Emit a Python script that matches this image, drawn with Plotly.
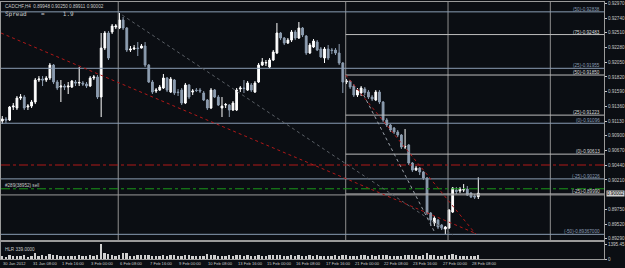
import plotly.graph_objects as go

# ---------------- data ----------------
symbol_header = "CADCHF,H4  0.89948 0.90250 0.89911 0.90002"
spread_text = "Spread    =     1.9"

bars = list(range(131))
opens = [0.91131,0.91162,0.91146,0.91350,0.91334,0.91490,0.91506,0.91350,0.91365,0.91428,
         0.91772,0.91787,0.91772,0.91803,0.92006,0.91741,0.91662,0.91678,0.91662,0.91662,
         0.91741,0.91725,0.91725,0.91709,0.91678,0.91803,0.91819,0.91506,0.92272,0.92507,
         0.92523,0.92601,0.92585,0.92710,0.92585,0.92241,0.92257,0.92272,0.92272,0.92304,
         0.92006,0.91741,0.91600,0.91615,0.91647,0.91803,0.91584,0.91772,0.91584,0.91615,
         0.91412,0.91694,0.91584,0.91615,0.91615,0.91569,0.91459,0.91334,0.91615,0.91506,
         0.91334,0.91381,0.91381,0.91303,0.91303,0.91631,0.91647,0.91615,0.91694,0.91584,
         0.91741,0.92006,0.92038,0.91975,0.92085,0.92194,0.92507,0.92429,0.92350,0.92397,
         0.92523,0.92429,0.92585,0.92460,0.92194,0.92288,0.92366,0.92257,0.92116,0.92257,
         0.92241,0.92241,0.92194,0.92038,0.91741,0.91756,0.91678,0.91537,0.91569,0.91631,
         0.91584,0.91506,0.91459,0.91584,0.91428,0.91146,0.91068,0.91021,0.90959,0.90912,
         0.90724,0.90755,0.90474,0.90364,0.90395,0.90333,0.90239,0.89692,0.89535,0.89582,
         0.89504,0.89441,0.89457,0.89707,0.90051,0.90036,0.90051,0.90067,0.90004,0.89958,
         0.89948]
highs = [0.91209,0.91193,0.91365,0.91412,0.91522,0.91553,0.91537,0.91396,0.91459,0.91803,
         0.91834,0.91834,0.91834,0.92038,0.92022,0.91772,0.91772,0.91709,0.91741,0.91772,
         0.91772,0.91975,0.91756,0.91741,0.91834,0.91850,0.91850,0.92507,0.92538,0.92538,
         0.92648,0.92648,0.92820,0.92757,0.92601,0.92304,0.92319,0.92366,0.92335,0.92366,
         0.92022,0.91772,0.91647,0.91694,0.91866,0.91819,0.91819,0.91787,0.91631,0.91647,
         0.91725,0.91709,0.91631,0.91647,0.91647,0.91600,0.91475,0.91647,0.91631,0.91537,
         0.91506,0.91412,0.91396,0.91443,0.91647,0.91678,0.91772,0.91756,0.91725,0.91756,
         0.92038,0.92116,0.92085,0.92116,0.92241,0.92663,0.92523,0.92444,0.92429,0.92554,
         0.92554,0.92679,0.92601,0.92476,0.92350,0.92413,0.92397,0.92288,0.92288,0.92319,
         0.92272,0.92272,0.92335,0.92053,0.91787,0.91772,0.91709,0.91647,0.91678,0.91662,
         0.91615,0.91537,0.91615,0.91615,0.91443,0.91177,0.91084,0.91037,0.90990,0.90927,
         0.91005,0.90771,0.90489,0.90427,0.90411,0.90349,0.90255,0.89707,0.89645,0.89598,
         0.89519,0.89488,0.89754,0.90098,0.90098,0.90098,0.90145,0.90114,0.90020,0.89989,
         0.90250]
lows = [0.91084,0.91099,0.91131,0.91303,0.91303,0.91459,0.91303,0.91303,0.91334,0.91396,
        0.91741,0.91678,0.91741,0.91772,0.91709,0.91615,0.91428,0.91615,0.91553,0.91647,
        0.91678,0.91678,0.91678,0.91647,0.91662,0.91772,0.91475,0.91193,0.92241,0.92085,
        0.92491,0.92569,0.92569,0.92554,0.92210,0.92210,0.92241,0.92147,0.92264,0.91975,
        0.91725,0.91553,0.91569,0.91600,0.91631,0.91584,0.91569,0.91537,0.91522,0.91381,
        0.91396,0.91475,0.91537,0.91584,0.91569,0.91443,0.91303,0.91318,0.91490,0.91365,
        0.91193,0.91334,0.91193,0.91287,0.91287,0.91584,0.91569,0.91600,0.91584,0.91569,
        0.91725,0.91991,0.91991,0.91959,0.92069,0.92178,0.92397,0.92319,0.92335,0.92366,
        0.92397,0.92413,0.92444,0.92163,0.92178,0.92272,0.92225,0.92116,0.92038,0.92085,
        0.92178,0.92163,0.92006,0.91569,0.91709,0.91631,0.91506,0.91506,0.91522,0.91537,
        0.91475,0.91443,0.91443,0.91396,0.91115,0.91037,0.90959,0.90927,0.90880,0.90693,
        0.90693,0.90442,0.90333,0.90349,0.90286,0.90208,0.89660,0.89488,0.89488,0.89441,
        0.89426,0.89363,0.89441,0.89692,0.89989,0.90004,0.90020,0.89958,0.89926,0.89911,
        0.89911]
closes = [0.91162,0.91146,0.91350,0.91365,0.91490,0.91506,0.91334,0.91365,0.91428,0.91772,
          0.91787,0.91772,0.91803,0.92006,0.91741,0.91647,0.91678,0.91662,0.91678,0.91756,
          0.91725,0.91733,0.91709,0.91678,0.91803,0.91819,0.91506,0.92272,0.92507,0.92116,
          0.92616,0.92616,0.92710,0.92585,0.92241,0.92257,0.92272,0.92264,0.92304,0.92006,
          0.91741,0.91584,0.91615,0.91662,0.91803,0.91615,0.91787,0.91569,0.91576,0.91412,
          0.91694,0.91506,0.91600,0.91608,0.91600,0.91459,0.91334,0.91615,0.91506,0.91381,
          0.91365,0.91389,0.91303,0.91412,0.91615,0.91647,0.91639,0.91725,0.91615,0.91725,
          0.92006,0.92053,0.92045,0.92085,0.92210,0.92507,0.92429,0.92350,0.92397,0.92523,
          0.92429,0.92585,0.92476,0.92194,0.92319,0.92382,0.92241,0.92132,0.92257,0.92116,
          0.92233,0.92194,0.92038,0.91741,0.91756,0.91662,0.91537,0.91615,0.91647,0.91576,
          0.91506,0.91475,0.91584,0.91428,0.91146,0.91068,0.90990,0.90959,0.90912,0.90724,
          0.90732,0.90474,0.90364,0.90395,0.90333,0.90239,0.89692,0.89582,0.89613,0.89473,
          0.89457,0.89473,0.89739,0.90083,0.90028,0.90067,0.90059,0.89973,0.89942,0.89942,
          0.90002]
volumes = [260,230,330,250,300,240,330,220,280,520,
           300,380,260,450,400,330,300,250,280,300,
           260,330,240,260,330,280,420,1395,560,480,
           380,300,350,560,520,300,280,330,350,400,
           380,300,260,280,330,300,420,330,260,300,
           330,380,260,300,260,300,480,400,330,280,
           300,260,350,300,420,330,280,330,300,260,
           330,300,280,350,420,380,330,300,280,350,
           300,330,260,300,350,280,330,300,260,280,
           300,330,300,350,330,300,280,260,350,330,
           300,330,280,380,420,330,300,280,260,300,
           420,420,380,330,300,350,560,400,330,300,
           280,330,400,500,330,280,260,300,280,300,
           330]

x_tick_bars = [0, 8, 16, 24, 32, 40, 48, 56, 64, 72, 80, 88, 96, 104, 112, 120, 128]
x_tick_text = ["30 Jan 2012", "31 Jan 08:00", "1 Feb 16:00", "3 Feb 00:00", "6 Feb 08:00",
               "7 Feb 16:00", "9 Feb 00:00", "10 Feb 08:00", "13 Feb 16:00", "15 Feb 00:00",
               "16 Feb 08:00", "17 Feb 16:00", "21 Feb 00:00", "22 Feb 08:00", "23 Feb 16:00",
               "27 Feb 00:00", "28 Feb 08:00"]

price_ticks = [0.89290, 0.89520, 0.89750, 0.90210, 0.90440, 0.90670, 0.90900, 0.91130,
               0.91360, 0.91590, 0.91820, 0.92050, 0.92280, 0.92510, 0.92740, 0.92970]
bid_price = 0.90002

# fibonacci set A (full width) and set B (from second vertical line)
fibA_levels = [0.92838, 0.91955, 0.91096, 0.90226, 0.89359]
fibA_labels = ["(50)-0.92838", "(25)-0.91955", "(0)-0.91096", "(-25)-0.90226", "(-50)-0.89367000"]
fibB_levels = [0.92483, 0.91850, 0.91223, 0.90613, 0.89990]
fibB_labels = ["(75)-0.92483", "(50)-0.91850", "(25)-0.91223", "(0)-0.90613", "(-25)-0.89990"]

vline_bars = [31.66, 93.79, 121.73, 149.67]

stop_level = 0.90443
order_level = 0.90071
order_label = "#289(38952) sell"

# trend lines: (bar0, price0, bar1, price1)
trend_red_long = (-0.35, 0.92507, 129.05, 0.89379)
trend_red_steep = (93.79, 0.91850, 129.3, 0.89363)
trend_gray = (32.75, 0.92788, 123.1, 0.89348)
trend_light = (98.7, 0.91537, 118.2, 0.89379)

vol_ticks = [0, 1395.45]
vol_label = "HLR 339.0000"

# ---------------- style ----------------
BG = "#0b0e13"
TXT = "#c8c8c8"
BEAR = "#8d9db0"
SLATE = "#8a9db3"
LGRAY = "#bdbdbd"
FONT = "Liberation Sans"

fig = go.Figure()
fig.add_trace(go.Candlestick(
    x=bars, open=opens, high=highs, low=lows, close=closes,
    increasing=dict(line=dict(color="#ffffff", width=1), fillcolor="#ffffff"),
    decreasing=dict(line=dict(color=BEAR, width=1), fillcolor=BEAR),
    whiskerwidth=0, xaxis="x", yaxis="y", showlegend=False, hoverinfo="skip"))
fig.add_trace(go.Bar(x=bars, y=volumes, marker=dict(color="#d0d0d0", line=dict(width=0)),
                     width=0.5, xaxis="x2", yaxis="y2", showlegend=False))

shapes = []
for vb in vline_bars:
    shapes.append(dict(type="line", xref="x", yref="y domain", x0=vb, x1=vb, y0=0, y1=1,
                       line=dict(color="#8f8f8f", width=1)))
for lv in fibA_levels:
    shapes.append(dict(type="line", xref="x domain", yref="y", x0=0, x1=1, y0=lv, y1=lv,
                       line=dict(color=SLATE, width=1)))
for lv in fibB_levels:
    shapes.append(dict(type="line", xref="x", yref="y", x0=vline_bars[1], x1=164.4, y0=lv, y1=lv,
                       line=dict(color=LGRAY, width=1)))
shapes.append(dict(type="line", xref="x domain", yref="y", x0=0, x1=1, y0=0.89975, y1=0.89975,
                   line=dict(color="#9a9a9a", width=1)))
shapes.append(dict(type="line", xref="x domain", yref="y", x0=0, x1=1, y0=stop_level, y1=stop_level,
                   line=dict(color="#b01818", width=1, dash="dashdot")))
shapes.append(dict(type="line", xref="x domain", yref="y", x0=0, x1=1, y0=order_level, y1=order_level,
                   line=dict(color="#1a9a1a", width=1, dash="dashdot")))
for (b0, p0, b1, p1), col in [(trend_red_long, "#b01818"), (trend_red_steep, "#b01818"),
                              (trend_gray, "#5a5f66"), (trend_light, "#9aa0a8")]:
    shapes.append(dict(type="line", xref="x", yref="y", x0=b0, x1=b1, y0=p0, y1=p1,
                       line=dict(color=col, width=1, dash="dot")))

annotations = []
annotations.append(dict(text=symbol_header, xref="paper", yref="paper", x=0.004, y=0.999,
                        xanchor="left", yanchor="top", showarrow=False,
                        font=dict(family=FONT, size=4.6, color=TXT)))
annotations.append(dict(text=spread_text, xref="paper", yref="paper", x=0.004, y=0.977,
                        xanchor="left", yanchor="top", showarrow=False,
                        font=dict(family="DejaVu Sans Mono", size=6, color=TXT)))
for lv, lb in zip(fibA_levels, fibA_labels):
    annotations.append(dict(text=lb, xref="x domain", yref="y", x=0.997, y=lv, xanchor="right",
                            yanchor="bottom", showarrow=False, yshift=-2,
                            font=dict(family=FONT, size=4.6, color=SLATE)))
for lv, lb in zip(fibB_levels, fibB_labels):
    annotations.append(dict(text=lb, xref="x domain", yref="y", x=0.997, y=lv, xanchor="right",
                            yanchor="bottom", showarrow=False, yshift=-2,
                            font=dict(family=FONT, size=4.6, color="#d8d8d8")))
annotations.append(dict(text=order_label, xref="x domain", yref="y", x=0.004, y=order_level,
                        xanchor="left", yanchor="bottom", showarrow=False, yshift=-1,
                        font=dict(family=FONT, size=4.6, color=TXT)))
annotations.append(dict(text=f"{bid_price:.5f}", xref="paper", yref="y", x=1.0, y=bid_price,
                        xanchor="left", yanchor="middle", showarrow=False, xshift=2,
                        bgcolor="#d0d0d0", borderpad=0,
                        font=dict(family=FONT, size=4.6, color="#000000")))
annotations.append(dict(text=vol_label, xref="paper", yref="paper", x=0.004, y=0.055,
                        xanchor="left", yanchor="top", showarrow=False,
                        font=dict(family=FONT, size=4.6, color=TXT)))
for b, t in zip(x_tick_bars, x_tick_text):
    annotations.append(dict(text=t, xref="x", yref="paper", x=b, y=-0.018, xanchor="left",
                            yanchor="middle", showarrow=False, xshift=-1,
                            font=dict(family=FONT, size=4.1, color=TXT)))

xr = [-0.353, 164.33]
fig.update_layout(
    width=625, height=268, margin=dict(l=0, r=18, t=2, b=9),
    paper_bgcolor=BG, plot_bgcolor=BG, showlegend=False,
    shapes=shapes, annotations=annotations, bargap=0,
    xaxis=dict(domain=[0, 1], range=xr, anchor="y", showticklabels=False, showgrid=False,
               zeroline=False, rangeslider=dict(visible=False), showline=True, mirror=True,
               linecolor="#9a9a9a", linewidth=1, ticks=""),
    xaxis2=dict(domain=[0, 1], range=xr, anchor="y2", matches="x", showticklabels=False,
                showgrid=False, zeroline=False, showline=True, mirror=True,
                linecolor="#9a9a9a", linewidth=1, ticks=""),
    yaxis=dict(domain=[0.0739, 1], range=[0.89270, 0.92992], side="right", showgrid=False,
               zeroline=False, tickvals=price_ticks, ticktext=[f"{v:.5f}" for v in price_ticks],
               tickfont=dict(family=FONT, size=4.6, color=TXT), ticks="outside", ticklen=2,
               tickcolor="#c8c8c8", showline=True, mirror=True, linecolor="#9a9a9a", linewidth=1),
    yaxis2=dict(domain=[0, 0.0661], range=[0, 1600], side="right", showgrid=False,
                zeroline=False, tickvals=vol_ticks, ticktext=["0", "1395.45"],
                tickfont=dict(family=FONT, size=4.6, color=TXT), ticks="outside", ticklen=2,
                tickcolor="#c8c8c8", showline=True, mirror=True, linecolor="#9a9a9a", linewidth=1),
)

fig.write_html("out.html")
